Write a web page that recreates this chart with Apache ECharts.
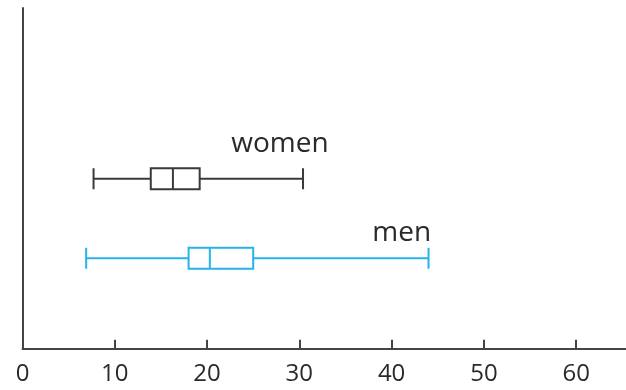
<!DOCTYPE html>
<html>
<head>
<meta charset="utf-8">
<script src="https://cdn.jsdelivr.net/npm/echarts@6/dist/echarts.min.js"></script>
<style>
html,body{margin:0;padding:0;background:#fff;}
#chart{width:626px;height:390px;}
</style>
</head>
<body>
<div id="chart"></div>
<script>
// Data
const categories = ['women', 'men'];
const women = [7.7, 13.9, 16.3, 19.2, 30.4];   // min, Q1, median, Q3, max
const men = [6.9, 18.0, 20.3, 25.0, 44.0];
const labelX = [27.9, 41.1];                    // x-position (data units) of series names
const xMin = 0, xMax = 65.4, xInterval = 10;

const colors = ['#3a3a3a', '#27b3ea'];
const FONT = '"Open Sans", sans-serif';

const chart = echarts.init(document.getElementById('chart'));
chart.setOption({
  animation: false,
  backgroundColor: '#fff',
  grid: [
    { left: 22.5, right: 0, top: 8, bottom: 41.3 },
    { left: 22.5, right: 0, top: 139, bottom: 92 }
  ],
  xAxis: [
    {
      gridIndex: 0, type: 'value', min: xMin, max: xMax, interval: xInterval,
      axisLine: { show: true, lineStyle: { color: '#444', width: 2 } },
      axisTick: { show: true, inside: true, length: 9, lineStyle: { color: '#444', width: 2 } },
      axisLabel: { color: '#2a2a2a', fontSize: 24, fontFamily: FONT, margin: 13,
        showMaxLabel: false },
      splitLine: { show: false }
    },
    {
      gridIndex: 1, type: 'value', min: xMin, max: xMax, interval: xInterval,
      show: false
    }
  ],
  yAxis: [
    {
      gridIndex: 0, type: 'value', min: 0, max: 1,
      axisLine: { show: true, onZero: false, lineStyle: { color: '#444', width: 2 } },
      axisTick: { show: false }, axisLabel: { show: false }, splitLine: { show: false }
    },
    {
      gridIndex: 1, type: 'category', data: categories, inverse: true, show: false
    }
  ],
  series: [
    {
      type: 'boxplot',
      xAxisIndex: 1, yAxisIndex: 1,
      boxWidth: [21, 21],
      data: [
        { value: women, itemStyle: { color: 'rgba(0,0,0,0)', borderColor: colors[0], borderWidth: 2 } },
        { value: men, itemStyle: { color: 'rgba(0,0,0,0)', borderColor: colors[1], borderWidth: 2 } }
      ]
    },
    {
      type: 'scatter',
      xAxisIndex: 1, yAxisIndex: 1,
      symbolSize: 0,
      silent: true,
      itemStyle: { opacity: 1 },
      data: categories.map((c, i) => ({
        value: [labelX[i], c],
        label: {
          show: true, formatter: c, position: 'inside',
          offset: [0, i === 0 ? -35 : -25],
          color: '#2a2a2a', fontSize: 28, fontFamily: FONT
        }
      }))
    }
  ]
});
</script>
</body>
</html>
